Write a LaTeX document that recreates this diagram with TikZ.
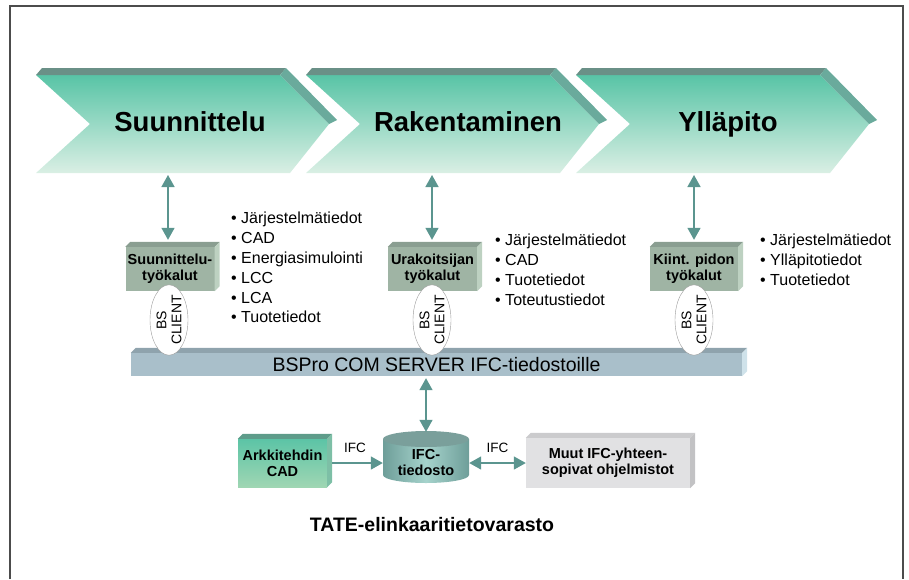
\documentclass[tikz,border=0pt]{standalone}
\usepackage{fontspec}
\setmainfont{Liberation Sans}
\usepackage{xcolor}
\usetikzlibrary{arrows.meta,shapes.geometric}

\definecolor{chevtop}{HTML}{58C4A6}
\definecolor{chevbot}{HTML}{DAEFE4}
\definecolor{chevface}{HTML}{6A9087}
\definecolor{chevside}{HTML}{6AAA9C}
\definecolor{toolfill}{HTML}{9FB4A4}
\definecolor{tooltop}{HTML}{8A9E91}
\definecolor{toolside}{HTML}{BDD1C1}
\definecolor{barfill}{HTML}{A9BFCA}
\definecolor{bartop}{HTML}{8FA3AD}
\definecolor{barside}{HTML}{CFE2EA}
\definecolor{archtop}{HTML}{5CC4A6}
\definecolor{archbot}{HTML}{9FD6B3}
\definecolor{archface}{HTML}{5E9C8A}
\definecolor{archside}{HTML}{7DBFA6}
\definecolor{muutfill}{HTML}{E1E1E3}
\definecolor{muuttop}{HTML}{CBCBCD}
\definecolor{muutside}{HTML}{C2C2C4}
\definecolor{ifcside}{HTML}{6E9E99}
\definecolor{ifcmid}{HTML}{A6D3CC}
\definecolor{ifctop}{HTML}{7A9F9B}
\definecolor{arrowcol}{HTML}{5B958F}

% top and right faces of a block node
\newcommand{\blockfaces}[3]{%
  \fill[#2] (#1.north west) -- ([shift={(5,-5)}]#1.north west)
    -- ([shift={(5,-5)}]#1.north east) -- (#1.north east) -- cycle;
  \fill[#3] (#1.north east) -- ([shift={(5,-5)}]#1.north east)
    -- ([shift={(5,-5)}]#1.south east) -- (#1.south east) -- cycle;}

\tikzset{
  phase/.style={font=\bfseries\fontsize{27.5}{30}\selectfont, anchor=base},
  block/.style={minimum width=89pt, minimum height=44pt, inner sep=0pt,
    align=center, font=\bfseries\fontsize{14.5}{16}\selectfont},
  tool/.style={block, fill=toolfill},
  client/.style={ellipse, draw=gray!80, fill=white, minimum width=66pt,
    minimum height=38pt, inner sep=0pt, rotate=90, align=center,
    font=\fontsize{14}{15}\selectfont},
  facts/.style={anchor=north west, inner sep=0pt, align=left,
    font=\fontsize{16}{19.8}\selectfont},
  tag/.style={inner sep=0pt, font=\fontsize{13.5}{15}\selectfont},
  link/.style={draw=arrowcol, line width=1.5pt,
    -{Triangle[width=13pt,length=12pt]}},
  bilink/.style={link,
    {Triangle[width=13pt,length=12pt]}-{Triangle[width=13pt,length=12pt]}},
}

\begin{document}
\begin{tikzpicture}[x=1pt, y=-1pt]
    \useasboundingbox (0,0) rectangle (909,579);
    \draw[gray!60!black, line width=1.2pt] (10,579) -- (10,6) -- (903,6) -- (903,579);

    % phases
    \foreach \x/\tx/\name/\txt in {0/190/suun/Suunnittelu, 270/468/rak/Rakentaminen, 540/728/yll/Ylläpito}{
      \shade[top color=chevtop, bottom color=chevbot] (36+\x,75) -- (280+\x,75)
        -- (329+\x,124) -- (290+\x,173) -- (36+\x,173) -- (90+\x,124) -- cycle;
      \fill[chevface] (36+\x,75) -- (42+\x,68) -- (286+\x,68) -- (280+\x,75) -- cycle;
      \fill[chevside] (280+\x,75) -- (286+\x,68) -- (337+\x,120) -- (329+\x,124) -- cycle;
      \node[phase] (\name) at (\tx,131) {\txt};
    }
    \coordinate (suun-foot) at (168,175);
    \coordinate (rak-foot) at (432,175);
    \coordinate (yll-foot) at (694,175);

    % tools
    \node[tool] (tool1) at (170,269) {Suunnittelu-\\työkalut};
    \node[tool] (tool2) at (432.5,269) {Urakoitsijan\\työkalut};
    \node[tool, minimum width=88pt] (tool3) at (694,269) {Kiint. pidon\\työkalut};
    \blockfaces{tool1}{tooltop}{toolside}
    \blockfaces{tool2}{tooltop}{toolside}
    \blockfaces{tool3}{tooltop}{toolside}

    \node[facts] (facts1) at (231,212) {\textbullet~Järjestelmätiedot\\\textbullet~CAD\\\textbullet~Energiasimulointi\\\textbullet~LCC\\\textbullet~LCA\\\textbullet~Tuotetiedot};
    \node[facts] (facts2) at (495,234) {\textbullet~Järjestelmätiedot\\\textbullet~CAD\\\textbullet~Tuotetiedot\\\textbullet~Toteutustiedot};
    \node[facts] (facts3) at (760,234) {\textbullet~Järjestelmätiedot\\\textbullet~Ylläpitotiedot\\\textbullet~Tuotetiedot};

    % server
    \node[fill=barfill, minimum width=611pt, minimum height=23pt, inner sep=0pt,
      font=\fontsize{19.5}{22}\selectfont] (server) at (436.5,364.5) {BSPro COM SERVER IFC-tiedostoille};
    \blockfaces{server}{bartop}{barside}

    \node[client] (bs1) at (169,320) {BS\\CLIENT};
    \node[client] (bs2) at (432,320) {BS\\CLIENT};
    \node[client] (bs3) at (694,320) {BS\\CLIENT};

    % store
    \shade[left color=ifcside, right color=ifcside, middle color=ifcmid] (383,439) -- (383,475)
      arc[start angle=180, end angle=0, x radius=43, y radius=8] -- (469,439) -- cycle;
    \fill[ifctop] (426,439) ellipse [x radius=43, y radius=8];
    \node[block, minimum width=86pt] (ifc) at (426,462) {IFC-\\tiedosto};

    \node[block, minimum height=48pt, top color=archtop, bottom color=archbot] (arch) at (282.5,463) {Arkkitehdin\\CAD};
    \blockfaces{arch}{archface}{archside}
    \node[block, fill=muutfill, minimum width=164pt, minimum height=50pt] (muut) at (608,463) {Muut IFC-yhteen-\\sopivat ohjelmistot};
    \blockfaces{muut}{muuttop}{muutside}

    \node[font=\bfseries\fontsize{19.5}{22}\selectfont] (tate) at (432,525) {TATE-elinkaaritietovarasto};

    % links
    \draw[bilink, shorten >=7pt] (suun-foot) -- (suun-foot |- tool1.north);
    \draw[bilink, shorten >=7pt] (rak-foot) -- (rak-foot |- tool2.north);
    \draw[bilink, shorten >=7pt] (yll-foot) -- (yll-foot |- tool3.north);
    \draw[bilink, shorten <=2pt, shorten >=8pt] (server.south -| ifc.north) -- (ifc.north);
    \draw[link, shorten <=5pt] (arch.east) -- (arch.east -| ifc.west)
      node[tag, midway, above=10pt] (tag1) {IFC};
    \draw[bilink] (muut.west) -- (muut.west -| ifc.east)
      node[tag, midway, above=10pt] (tag2) {IFC};
\end{tikzpicture}
\end{document}
